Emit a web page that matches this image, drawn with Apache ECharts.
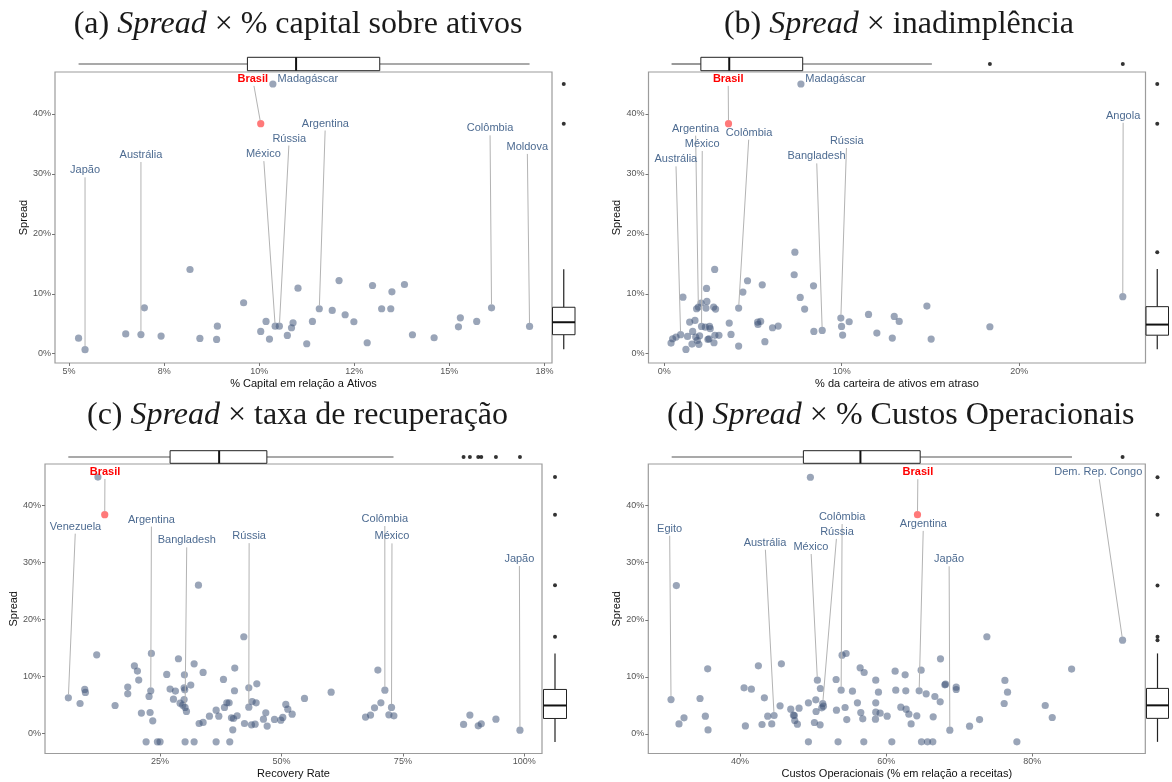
<!DOCTYPE html>
<html><head><meta charset="utf-8">
<script src="https://cdn.jsdelivr.net/npm/echarts@6/dist/echarts.min.js"></script>
<style>html,body{margin:0;padding:0;background:#fff}#c{width:1172px;height:782px}</style>
</head><body><div id="c"></div>
<script>
// ---------------- DATA ----------------
const yTicks = [0, 10, 20, 30, 40];
const yTickLabels = ['0%', '10%', '20%', '30%', '40%'];
const yName = 'Spread';

// (a) Spread x % capital sobre ativos
const titleA = ['(a) ', 'Spread', ' \u00d7 % capital sobre ativos'];
const xNameA = '% Capital em rela\u00e7\u00e3o a Ativos';
const xTicksA = [5, 7.5, 10, 12.5, 15, 17.5];
const xTickLabelsA = ['5%', '8%', '10%', '12%', '15%', '18%'];
const pointsA = [[5.25,2.6],[5.42,0.68],[6.49,3.3],[6.89,3.2],[6.98,7.66],[7.42,2.94],[8.18,14.05],[8.44,2.55],[8.88,2.38],[8.9,4.6],[9.59,8.5],[10.04,3.72],[10.18,5.38],[10.27,2.44],[10.36,45.0],[10.42,4.6],[10.53,4.6],[10.74,3.05],[10.85,4.33],[10.89,5.16],[11.02,10.94],[11.25,1.66],[11.4,5.38],[11.58,7.5],[11.92,7.22],[12.1,12.2],[12.26,6.5],[12.49,5.33],[12.84,1.83],[12.98,11.38],[13.22,7.5],[13.46,7.5],[13.49,10.33],[13.82,11.55],[14.03,3.16],[14.6,2.66],[15.24,4.49],[15.29,5.99],[15.72,5.38],[16.11,7.66],[17.11,4.55]];
const brasilA = [10.04, 38.38];
const labelNamesA = ['Brasil','Madag\u00e1scar','Jap\u00e3o','Austr\u00e1lia','M\u00e9xico','R\u00fassia','Argentina','Col\u00f4mbia','Moldova'];
const labelAnchorsA = [[9.83,45.85],[11.28,45.85],[5.42,30.6],[6.89,33.15],[10.11,33.3],[10.79,35.9],[11.74,38.4],[16.07,37.6],[17.05,34.5]];
const labelTargetsA = [[10.04,38.38],[10.36,45.0],[5.42,0.68],[6.89,3.2],[10.42,4.6],[10.53,4.6],[11.58,7.5],[16.11,7.66],[17.11,4.55]];
const topBoxA = [5.25, 9.69, 10.97, 13.17, 17.11];
const topOutA = [];
const rightBoxA = [0.73, 3.17, 5.25, 7.75, 14.1];
const rightOutA = [45.0, 38.38];

// (b) Spread x inadimplencia
const titleB = ['(b) ', 'Spread', ' \u00d7 inadimpl\u00eancia'];
const xNameB = '% da carteira de ativos em atraso';
const xTicksB = [0, 10, 20];
const xTickLabelsB = ['0%', '10%', '20%'];
const pointsB = [[0.38,1.78],[0.47,2.5],[0.66,2.78],[0.92,3.17],[1.05,9.44],[1.22,0.72],[1.31,2.89],[1.43,5.28],[1.56,1.61],[1.6,3.72],[1.73,5.56],[1.77,2.78],[1.82,7.5],[1.86,2.22],[1.92,7.78],[1.95,1.56],[1.99,3.0],[2.07,8.44],[2.1,4.56],[2.31,4.44],[2.35,7.61],[2.38,10.89],[2.4,8.72],[2.46,2.39],[2.52,2.5],[2.55,4.56],[2.59,4.17],[2.78,7.78],[2.8,1.83],[2.84,14.06],[2.85,3.06],[2.89,7.44],[3.08,3.06],[3.66,5.11],[3.76,3.22],[4.19,7.61],[4.19,1.28],[4.43,10.28],[4.69,12.17],[5.26,5.28],[5.28,4.89],[5.43,5.39],[5.52,11.5],[5.67,2.0],[6.1,4.33],[6.42,4.61],[7.32,13.17],[7.36,16.94],[7.66,9.39],[7.91,7.44],[8.41,11.33],[8.43,3.72],[8.9,3.89],[9.95,5.94],[9.99,4.56],[10.05,3.11],[10.42,5.33],[11.51,6.56],[11.98,3.44],[12.85,2.61],[12.96,6.22],[13.24,5.39],[14.8,7.94],[15.04,2.44],[18.35,4.5],[7.7,45.0],[25.84,9.52]];
const brasilB = [3.62, 38.38];
const labelNamesB = ['Brasil','Madag\u00e1scar','Argentina','Col\u00f4mbia','M\u00e9xico','Austr\u00e1lia','R\u00fassia','Bangladesh','Angola'];
const labelAnchorsB = [[3.6,45.85],[9.65,45.85],[1.76,37.55],[4.78,36.88],[2.14,34.99],[0.65,32.42],[10.28,35.49],[8.58,32.92],[25.86,39.7]];
const labelTargetsB = [[3.62,38.38],[7.7,45.0],[1.92,7.78],[4.19,7.61],[2.1,4.56],[0.92,3.17],[9.95,5.94],[8.9,3.89],[25.84,9.52]];
const topBoxB = [0.41, 2.06, 3.66, 7.8, 15.08];
const topOutB = [18.35, 25.84];
const rightBoxB = [0.74, 3.09, 4.86, 7.85, 14.15];
const rightOutB = [45.0, 38.38, 16.94];

// (c) Spread x taxa de recuperacao
const titleC = ['(c) ', 'Spread', ' \u00d7 taxa de recupera\u00e7\u00e3o'];
const xNameC = 'Recovery Rate';
const xTicksC = [25, 50, 75, 100];
const xTickLabelsC = ['25%', '50%', '75%', '100%'];
const pointsC = [[6.11,6.26],[8.52,5.26],[9.48,7.72],[9.62,7.19],[11.95,13.8],[15.73,4.91],[18.34,8.13],[18.34,6.96],[19.71,11.87],[20.33,10.94],[20.6,9.36],[21.15,3.57],[22.12,-1.46],[22.73,6.49],[22.94,3.68],[23.08,7.49],[23.21,14.04],[23.49,2.22],[24.45,-1.46],[25.0,-1.46],[26.37,10.35],[27.06,7.78],[27.75,6.02],[28.16,7.43],[28.78,13.1],[29.12,5.32],[29.67,4.97],[29.95,8.01],[29.95,5.96],[30.01,10.29],[30.08,7.66],[30.15,4.56],[30.15,-1.46],[30.43,3.86],[31.32,8.48],[32.01,12.22],[32.01,-1.46],[33.04,1.75],[33.86,10.7],[33.86,1.93],[35.16,3.04],[36.54,4.09],[36.54,-1.46],[37.09,3.04],[38.05,9.47],[38.26,4.56],[38.74,5.38],[39.22,5.38],[39.35,-1.46],[39.7,2.75],[39.97,0.64],[40.11,2.63],[40.32,7.49],[40.38,11.46],[40.87,3.1],[42.38,1.75],[42.24,16.96],[43.27,8.01],[43.27,4.62],[43.82,1.52],[43.96,5.61],[44.57,1.64],[44.78,5.38],[44.92,8.71],[46.29,2.51],[46.77,3.63],[47.05,1.29],[48.56,2.46],[49.86,2.34],[50.27,2.81],[50.89,5.09],[51.3,4.27],[52.2,3.39],[54.74,6.14],[60.23,7.25],[67.31,2.87],[68.34,3.22],[69.16,4.5],[69.85,11.11],[70.47,5.38],[71.29,7.6],[72.12,3.27],[72.66,4.56],[73.15,3.1],[87.5,1.58],[88.8,3.22],[90.52,1.35],[91.14,1.7],[94.16,2.51],[99.11,0.58],[32.9,26.0],[12.2,44.95]];
const brasilC = [13.6, 38.36];
const labelNamesC = ['Brasil','Venezuela','Argentina','Bangladesh','R\u00fassia','Col\u00f4mbia','M\u00e9xico','Jap\u00e3o'];
const labelAnchorsC = [[13.65,45.85],[7.59,36.26],[23.22,37.5],[30.5,33.86],[43.34,34.6],[71.28,37.6],[72.76,34.56],[98.99,30.6]];
const labelTargetsC = [[13.6,38.36],[6.11,6.26],[23.08,7.49],[30.15,4.56],[43.27,4.62],[71.29,7.6],[72.66,4.56],[99.11,0.58]];
const topBoxC = [6.1, 27.06, 37.16, 46.99, 73.07];
const topOutC = [87.5, 88.8, 90.52, 91.14, 94.16, 99.11];
const rightBoxC = [-1.48, 2.63, 4.91, 7.72, 14.04];
const rightOutC = [44.95, 38.36, 26.0, 16.96];

// (d) Spread x % Custos Operacionais
const titleD = ['(d) ', 'Spread', ' \u00d7 % Custos Operacionais'];
const xNameD = 'Custos Operacionais (% em rela\u00e7\u00e3o a receitas)';
const xTicksD = [40, 60, 80];
const xTickLabelsD = ['40%', '60%', '80%'];
const pointsD = [[30.55,6.02],[31.64,1.75],[32.33,2.81],[34.52,6.2],[35.25,3.1],[35.57,11.4],[35.62,0.7],[40.55,8.07],[40.73,1.4],[41.55,7.84],[42.51,11.93],[43.01,1.64],[43.33,6.32],[43.79,3.1],[44.34,1.75],[44.66,3.22],[45.48,4.91],[45.66,12.28],[46.94,4.33],[47.31,3.27],[47.44,3.22],[47.49,2.34],[47.85,1.7],[48.08,4.5],[49.36,5.44],[49.36,-1.4],[50.18,1.99],[50.37,5.96],[50.41,3.92],[50.59,9.42],[50.96,1.58],[51.0,7.95],[51.19,4.56],[51.32,5.32],[51.42,4.85],[53.15,9.53],[53.2,4.15],[53.42,-1.4],[53.84,7.66],[53.97,13.8],[54.38,4.62],[54.52,14.09],[54.61,2.51],[55.39,7.49],[56.07,5.44],[56.44,11.58],[56.53,3.74],[56.8,2.63],[56.94,-1.4],[56.99,10.76],[58.58,9.42],[58.58,5.44],[58.58,3.8],[58.54,2.57],[58.95,7.31],[59.18,3.63],[60.14,3.1],[60.78,-1.4],[61.23,10.99],[61.32,7.66],[62.01,4.68],[62.6,10.35],[62.69,7.54],[62.74,4.33],[63.11,3.45],[63.42,1.75],[64.2,3.16],[64.52,7.54],[64.79,11.17],[64.84,-1.4],[65.48,7.02],[65.66,-1.4],[66.44,2.98],[66.39,-1.4],[66.67,6.55],[67.4,5.61],[67.44,13.16],[68.04,8.6],[68.13,8.71],[68.72,0.64],[69.59,8.19],[69.59,7.78],[71.42,1.35],[72.79,2.51],[73.79,17.02],[76.16,5.32],[76.26,9.36],[76.62,7.31],[77.9,-1.4],[81.78,4.97],[82.74,2.87],[85.39,11.35],[92.37,16.43],[49.63,44.98],[31.28,26.0]];
const brasilD = [64.29, 38.42];
const labelNamesD = ['Brasil','Dem. Rep. Congo','Egito','Austr\u00e1lia','M\u00e9xico','Col\u00f4mbia','R\u00fassia','Argentina','Jap\u00e3o'];
const labelAnchorsD = [[64.35,45.86],[89.04,45.86],[30.36,35.96],[43.42,33.5],[49.69,32.75],[53.98,38.0],[53.27,35.4],[65.1,36.8],[68.62,30.6]];
const labelTargetsD = [[64.29,38.42],[92.37,16.43],[30.55,6.02],[44.66,3.22],[50.59,9.42],[53.84,7.66],[51.32,5.32],[64.52,7.54],[68.72,0.64]];
const topBoxD = [30.64, 48.67, 56.48, 64.66, 85.44];
const topOutD = [92.37];
const rightBoxD = [-1.4, 2.72, 5.0, 7.97, 14.1];
const rightOutD = [44.98, 38.42, 26.0, 17.02, 16.43];

// ---------------- LAYOUT / STYLE ----------------
const SANS = 'Liberation Sans, Arial, sans-serif';
const SERIF = 'Liberation Serif, Times New Roman, serif';
const PT_COLOR = 'rgba(62,84,120,0.66)';
const RED_COLOR = 'rgba(255,0,0,0.66)';
const LABEL_COLOR = '#4d6b91';

const panels = [
  {title: titleA, xName: xNameA, xTicks: xTicksA, xTickLabels: xTickLabelsA, pts: pointsA, red: brasilA,
   names: labelNamesA, anchors: labelAnchorsA, targets: labelTargetsA, topBox: topBoxA, topOut: topOutA, rightBox: rightBoxA, rightOut: rightOutA,
   main: {left: 55, top: 72, width: 497, height: 291}, topG: {top: 57.3, height: 13.4}, rightG: {left: 552.5, width: 22.5},
   titlePos: [298, 24.5], xr: [4.63, 17.70], yr: [-1.55, 47.0]},
  {title: titleB, xName: xNameB, xTicks: xTicksB, xTickLabels: xTickLabelsB, pts: pointsB, red: brasilB,
   names: labelNamesB, anchors: labelAnchorsB, targets: labelTargetsB, topBox: topBoxB, topOut: topOutB, rightBox: rightBoxB, rightOut: rightOutB,
   main: {left: 648.5, top: 72, width: 497, height: 291}, topG: {top: 57.3, height: 13.4}, rightG: {left: 1146, width: 22.5},
   titlePos: [899, 24.5], xr: [-0.89, 27.12], yr: [-1.55, 47.0]},
  {title: titleC, xName: xNameC, xTicks: xTicksC, xTickLabels: xTickLabelsC, pts: pointsC, red: brasilC,
   names: labelNamesC, anchors: labelAnchorsC, targets: labelTargetsC, topBox: topBoxC, topOut: topOutC, rightBox: rightBoxC, rightOut: rightOutC,
   main: {left: 45, top: 464, width: 497, height: 289.5}, topG: {top: 450.7, height: 12.6}, rightG: {left: 543.5, width: 23},
   titlePos: [297.5, 415.2], xr: [1.30, 103.65], yr: [-3.51, 47.25]},
  {title: titleD, xName: xNameD, xTicks: xTicksD, xTickLabels: xTickLabelsD, pts: pointsD, red: brasilD,
   names: labelNamesD, anchors: labelAnchorsD, targets: labelTargetsD, topBox: topBoxD, topOut: topOutD, rightBox: rightBoxD, rightOut: rightOutD,
   main: {left: 648.3, top: 464, width: 497, height: 289.5}, topG: {top: 450.7, height: 12.6}, rightG: {left: 1146.5, width: 22},
   titlePos: [900.8, 415.2], xr: [27.44, 95.48], yr: [-3.44, 47.3]}
];

function fmt(ticks, labels) {
  return function (v) {
    const i = ticks.findIndex(t => Math.abs(t - v) < 1e-6);
    return i >= 0 ? labels[i] : '';
  };
}

function labelRenderer(names) {
  return function (params, api) {
    const i = params.dataIndex;
    const l = api.coord([api.value(0), api.value(1)]);
    const p = api.coord([api.value(2), api.value(3)]);
    const isBr = names[i] === 'Brasil';
    const children = [];
    const dx = p[0] - l[0], dy = p[1] - l[1];
    if (dy > 14) {
      const h = 7;
      const sx = l[0] + dx * h / dy, sy = l[1] + h;
      const len = Math.hypot(dx, dy);
      const ex = p[0] - dx / len * 3.4, ey = p[1] - dy / len * 3.4;
      children.push({type: 'line', shape: {x1: sx, y1: sy, x2: ex, y2: ey},
        style: {stroke: '#b3b3b3', lineWidth: 1}});
    }
    children.push({type: 'text', style: {text: names[i], x: l[0], y: l[1], align: 'center', verticalAlign: 'middle',
      fontFamily: SANS, fontSize: 11, fontWeight: isBr ? 'bold' : 'normal', fill: isBr ? '#ff0000' : LABEL_COLOR}});
    return {type: 'group', children};
  };
}

function hBox(params, api) {
  const v = [0, 1, 2, 3, 4].map(k => api.value(k));
  const y0 = api.coord([v[0], 0])[1], y1 = api.coord([v[0], 1])[1], ym = (y0 + y1) / 2;
  const X = v.map(x => api.coord([x, 0.5])[0]);
  const top = Math.min(y0, y1), h = Math.abs(y1 - y0);
  return {type: 'group', children: [
    {type: 'line', shape: {x1: X[0], y1: ym, x2: X[1], y2: ym}, style: {stroke: '#555', lineWidth: 1.2}},
    {type: 'line', shape: {x1: X[3], y1: ym, x2: X[4], y2: ym}, style: {stroke: '#555', lineWidth: 1.2}},
    {type: 'rect', shape: {x: X[1], y: top, width: X[3] - X[1], height: h}, style: {fill: '#fff', stroke: '#222', lineWidth: 1}},
    {type: 'line', shape: {x1: X[2], y1: top, x2: X[2], y2: top + h}, style: {stroke: '#111', lineWidth: 2}}
  ]};
}

function vBox(params, api) {
  const v = [0, 1, 2, 3, 4].map(k => api.value(k));
  const x0 = api.coord([0, v[0]])[0], x1 = api.coord([1, v[0]])[0], xm = (x0 + x1) / 2;
  const Y = v.map(y => api.coord([0.5, y])[1]);
  const left = Math.min(x0, x1), w = Math.abs(x1 - x0);
  return {type: 'group', children: [
    {type: 'line', shape: {x1: xm, y1: Y[0], x2: xm, y2: Y[1]}, style: {stroke: '#222', lineWidth: 1.2}},
    {type: 'line', shape: {x1: xm, y1: Y[3], x2: xm, y2: Y[4]}, style: {stroke: '#222', lineWidth: 1.2}},
    {type: 'rect', shape: {x: left, y: Y[3], width: w, height: Y[1] - Y[3]}, style: {fill: '#fff', stroke: '#222', lineWidth: 1}},
    {type: 'line', shape: {x1: left, y1: Y[2], x2: left + w, y2: Y[2]}, style: {stroke: '#111', lineWidth: 2}}
  ]};
}

const grid = [], xAxis = [], yAxis = [], series = [], graphic = [];
panels.forEach((P, k) => {
  const g0 = k * 3;
  grid.push(Object.assign({show: true, borderColor: '#9c9c9c', borderWidth: 1.2, backgroundColor: 'transparent', containLabel: false, outerBoundsMode: 'none'}, P.main));
  grid.push({show: false, left: P.main.left, width: P.main.width, top: P.topG.top, height: P.topG.height, containLabel: false, outerBoundsMode: 'none'});
  grid.push({show: false, left: P.rightG.left, width: P.rightG.width, top: P.main.top, height: P.main.height, containLabel: false, outerBoundsMode: 'none'});

  xAxis.push({type: 'value', gridIndex: g0, min: P.xr[0], max: P.xr[1], position: 'bottom',
    axisLine: {show: false, onZero: false}, splitLine: {show: false},
    axisTick: {show: true, length: 3, customValues: P.xTicks, lineStyle: {color: '#777', width: 1}},
    axisLabel: {customValues: P.xTicks, formatter: fmt(P.xTicks, P.xTickLabels), color: '#555', fontFamily: SANS, fontSize: 9, margin: 4},
    name: P.xName, nameLocation: 'middle', nameGap: 15,
    nameTextStyle: {fontFamily: SANS, fontSize: 11, color: '#111'}});
  yAxis.push({type: 'value', gridIndex: g0, min: P.yr[0], max: P.yr[1], position: 'left',
    axisLine: {show: false, onZero: false}, splitLine: {show: false},
    axisTick: {show: true, length: 3, customValues: yTicks, lineStyle: {color: '#777', width: 1}},
    axisLabel: {customValues: yTicks, formatter: fmt(yTicks, yTickLabels), color: '#555', fontFamily: SANS, fontSize: 9, margin: 4},
    name: yName, nameLocation: 'middle', nameGap: 26, nameRotate: 90,
    nameTextStyle: {fontFamily: SANS, fontSize: 11, color: '#111'}});
  // top marginal
  xAxis.push({type: 'value', gridIndex: g0 + 1, min: P.xr[0], max: P.xr[1], show: false, axisLine: {onZero: false}});
  yAxis.push({type: 'value', gridIndex: g0 + 1, min: 0, max: 1, show: false, axisLine: {onZero: false}});
  // right marginal
  xAxis.push({type: 'value', gridIndex: g0 + 2, min: 0, max: 1, show: false, axisLine: {onZero: false}});
  yAxis.push({type: 'value', gridIndex: g0 + 2, min: P.yr[0], max: P.yr[1], show: false, axisLine: {onZero: false}});

  series.push({type: 'scatter', xAxisIndex: g0, yAxisIndex: g0, data: P.pts, symbolSize: 7.2,
    itemStyle: {color: PT_COLOR}, silent: true, z: 2});
  series.push({type: 'scatter', xAxisIndex: g0, yAxisIndex: g0, data: [P.red], symbolSize: 7.2,
    itemStyle: {color: RED_COLOR}, silent: true, z: 3});
  series.push({type: 'custom', xAxisIndex: g0, yAxisIndex: g0, clip: false, silent: true, z: 4,
    data: P.anchors.map((a, i) => [a[0], a[1], P.targets[i][0], P.targets[i][1]]),
    renderItem: labelRenderer(P.names)});
  series.push({type: 'custom', xAxisIndex: g0 + 1, yAxisIndex: g0 + 1, clip: false, silent: true,
    data: [P.topBox], renderItem: hBox});
  series.push({type: 'scatter', xAxisIndex: g0 + 1, yAxisIndex: g0 + 1, silent: true, symbolSize: 4,
    itemStyle: {color: '#000'}, data: P.topOut.map(x => [x, 0.5])});
  series.push({type: 'custom', xAxisIndex: g0 + 2, yAxisIndex: g0 + 2, clip: false, silent: true,
    data: [P.rightBox], renderItem: vBox});
  series.push({type: 'scatter', xAxisIndex: g0 + 2, yAxisIndex: g0 + 2, silent: true, symbolSize: 4,
    itemStyle: {color: '#000'}, data: P.rightOut.map(y => [0.5, y])});

  graphic.push({type: 'text', x: P.titlePos[0], y: P.titlePos[1], silent: true,
    style: {text: '{n|' + P.title[0] + '}{i|' + P.title[1] + '}{n|' + P.title[2] + '}',
      align: 'center', verticalAlign: 'middle',
      rich: {n: {fontFamily: SERIF, fontSize: 32, fill: '#1a1a1a'}, i: {fontFamily: SERIF, fontSize: 32, fontStyle: 'italic', fill: '#1a1a1a'}}}});
});

const chart = echarts.init(document.getElementById('c'), null, {renderer: 'canvas'});
chart.setOption({animation: false, backgroundColor: '#fff', grid, xAxis, yAxis, series, graphic});
</script></body></html>
